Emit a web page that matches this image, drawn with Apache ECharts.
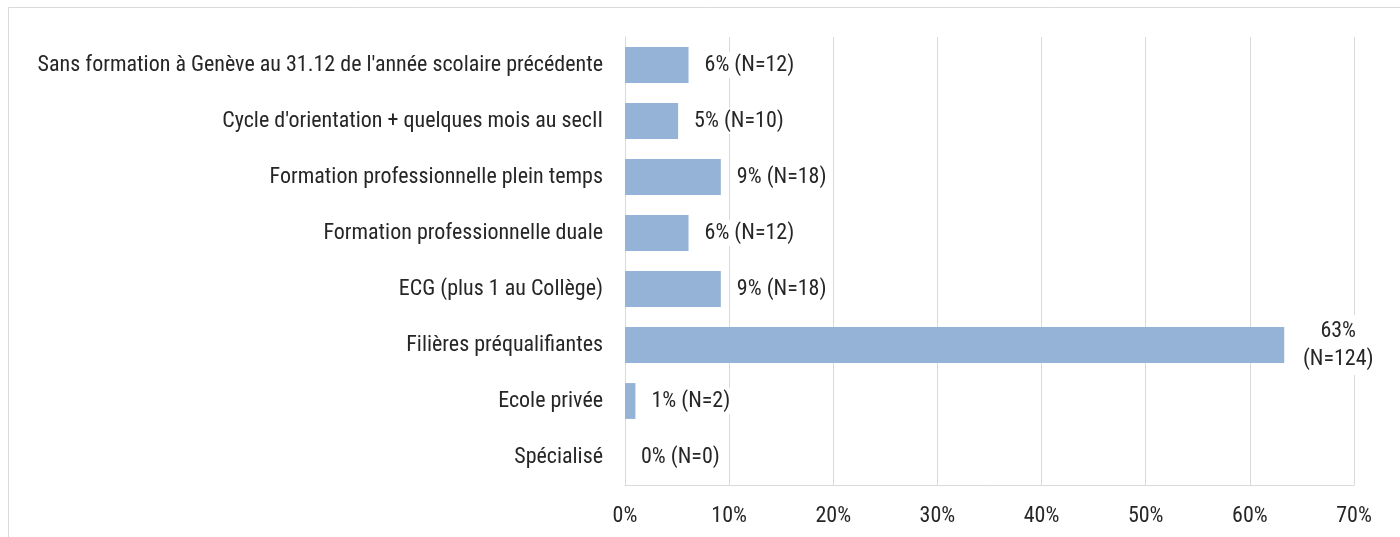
<!DOCTYPE html>
<html><head><meta charset="utf-8">
<script src="https://cdn.jsdelivr.net/npm/echarts@6/dist/echarts.min.js"></script>
<style>html,body{margin:0;padding:0;background:#fff;}#c{width:1400px;height:537px;}</style>
</head><body><div id="c"></div>
<script>
const categories = [
  "Sans formation à Genève au 31.12 de l'année scolaire précédente",
  "Cycle d'orientation + quelques mois au secII",
  "Formation professionnelle plein temps",
  "Formation professionnelle duale",
  "ECG (plus 1 au Collège)",
  "Filières préqualifiantes",
  "Ecole privée",
  "Spécialisé"
];
const percentValues = [6.1, 5.1, 9.2, 6.1, 9.2, 63.3, 1.0, 0];
const pctLabels = ["6%", "5%", "9%", "6%", "9%", "63%", "1%", "0%"];
const counts = [12, 10, 18, 12, 18, 124, 2, 0];
const xTicks = [0, 10, 20, 30, 40, 50, 60, 70];

const FONT = "'Roboto Condensed','Liberation Sans',sans-serif";
const FS = 22;
const chart = echarts.init(document.getElementById('c'));
const data = percentValues.map((v, i) => {
  const item = { value: v };
  if (counts[i] > 100) {
    item.label = { align: 'center', offset: [42, 0], lineHeight: 28 };
  }
  return item;
});
chart.setOption({
  animation: false,
  graphic: [{ type: 'rect', shape: { x: 8.5, y: 7.5, width: 1400, height: 540 },
    style: { fill: 'none', stroke: '#d9d9d9', lineWidth: 1 }, silent: true }],
  grid: { left: 625, right: 46, top: 37, bottom: 52, containLabel: false, outerBoundsMode: 'none' },
  xAxis: {
    type: 'value', min: xTicks[0], max: xTicks[xTicks.length - 1], interval: 10,
    axisLine: { show: true, lineStyle: { color: '#d9d9d9' } },
    axisTick: { show: false },
    splitLine: { show: true, lineStyle: { color: '#d9d9d9', width: 1 } },
    axisLabel: { formatter: v => v + '%', fontFamily: FONT, fontSize: FS, color: '#262626', margin: 20 }
  },
  yAxis: {
    type: 'category', data: categories, inverse: true,
    axisLine: { show: true, lineStyle: { color: '#d9d9d9' } },
    axisTick: { show: false },
    axisLabel: { fontFamily: FONT, fontSize: FS, color: '#262626', margin: 22 }
  },
  series: [{
    type: 'bar', data: data, barCategoryGap: '36%',
    itemStyle: { color: '#95b3d7' },
    label: {
      show: true, position: 'right', distance: 12,
      fontFamily: FONT, fontSize: FS, color: '#262626',
      backgroundColor: '#fff', padding: [2, 4],
      formatter: p => counts[p.dataIndex] > 100
        ? pctLabels[p.dataIndex] + '\n(N=' + counts[p.dataIndex] + ')'
        : pctLabels[p.dataIndex] + ' (N=' + counts[p.dataIndex] + ')'
    }
  }]
});
</script></body></html>
